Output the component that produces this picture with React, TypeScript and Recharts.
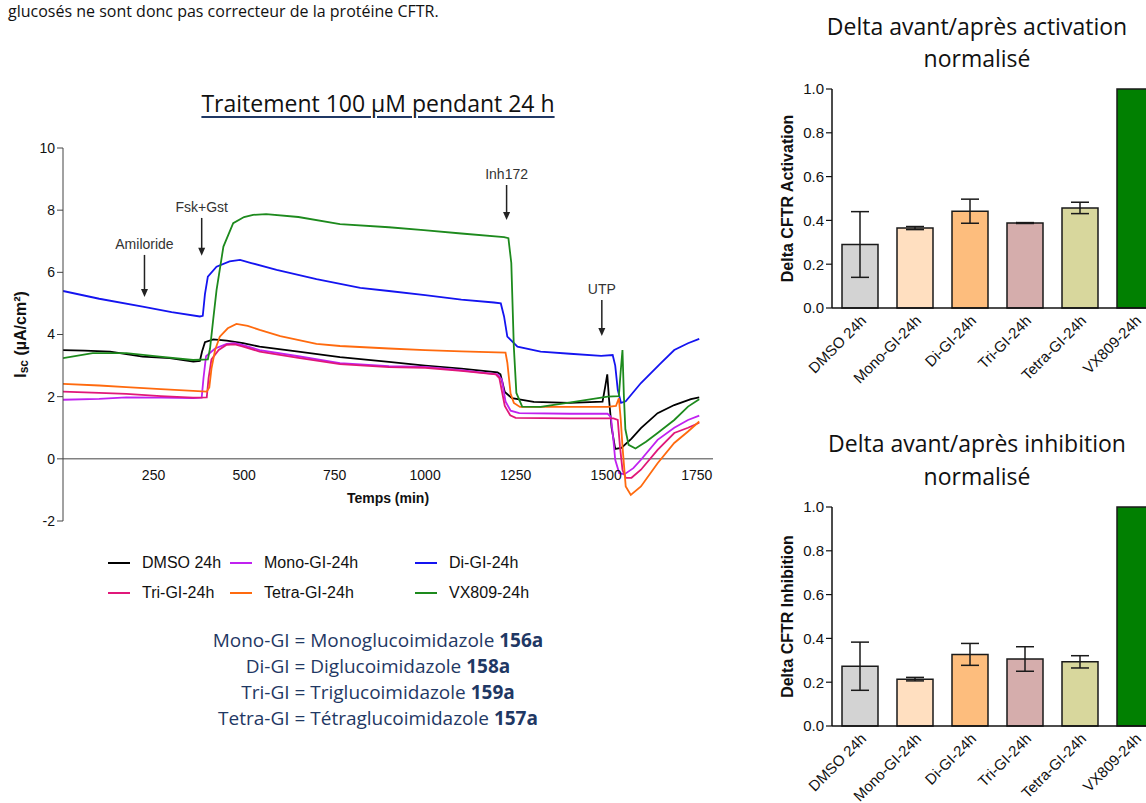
import React from "react";
import {
  Bar,
  BarChart,
  Cell,
  ErrorBar,
  Line,
  LineChart,
  ReferenceLine,
  XAxis,
  YAxis,
} from "recharts";

// Isc traces, [time (min), Isc (µA/cm²)]
const dmso: [number, number][] = [
  [0, 3.5], [60, 3.48], [130, 3.45], [220, 3.29], [295, 3.24], [360, 3.13], [378, 3.15],
  [384, 3.45], [392, 3.75], [415, 3.84], [452, 3.8], [497, 3.72], [543, 3.61], [650, 3.45],
  [765, 3.27], [900, 3.12], [1000, 3.0], [1100, 2.9], [1200, 2.78], [1208, 2.72], [1220, 2.15],
  [1240, 1.95], [1300, 1.83], [1400, 1.8], [1490, 1.84], [1497, 2.3], [1503, 2.72], [1508, 1.9],
  [1515, 1.0], [1525, 0.32], [1542, 0.35], [1570, 0.65], [1596, 0.99], [1642, 1.47],
  [1688, 1.73], [1734, 1.92], [1757, 1.98],
];
const monoGI: [number, number][] = [
  [0, 1.9], [100, 1.93], [175, 1.98], [270, 1.97], [359, 1.95], [383, 1.97], [388, 2.6],
  [395, 3.3], [420, 3.55], [452, 3.7], [475, 3.72], [500, 3.65], [543, 3.5], [650, 3.3],
  [765, 3.08], [900, 2.98], [1000, 2.96], [1100, 2.85], [1200, 2.72], [1212, 2.55],
  [1222, 1.85], [1236, 1.55], [1260, 1.47], [1400, 1.45], [1504, 1.45], [1513, 1.35],
  [1520, 0.6], [1525, -0.03], [1536, -0.46], [1550, -0.5], [1575, -0.3], [1596, -0.03],
  [1642, 0.61], [1688, 1.0], [1726, 1.25], [1757, 1.39],
];
const diGI: [number, number][] = [
  [0, 5.4], [100, 5.15], [220, 4.9], [300, 4.72], [378, 4.58], [386, 4.6], [392, 5.3],
  [400, 5.86], [424, 6.18], [460, 6.35], [489, 6.4], [520, 6.3], [590, 6.08], [700, 5.78],
  [821, 5.5], [900, 5.4], [1000, 5.27], [1100, 5.12], [1190, 5.03], [1209, 5.0], [1218, 4.58],
  [1227, 3.93], [1255, 3.61], [1319, 3.45], [1400, 3.38], [1486, 3.31], [1518, 3.34],
  [1525, 3.0], [1532, 2.22], [1541, 1.8], [1554, 1.85], [1596, 2.44], [1651, 3.08],
  [1688, 3.5], [1726, 3.72], [1757, 3.86],
];
const triGI: [number, number][] = [
  [0, 2.16], [100, 2.12], [175, 2.09], [270, 2.02], [359, 1.97], [397, 1.98], [402, 2.6],
  [410, 3.2], [430, 3.5], [452, 3.67], [475, 3.68], [500, 3.6], [543, 3.45], [650, 3.25],
  [765, 3.05], [900, 2.95], [1000, 2.93], [1100, 2.83], [1195, 2.72], [1205, 2.6],
  [1220, 1.7], [1235, 1.4], [1250, 1.32], [1400, 1.3], [1520, 1.3], [1532, 1.25],
  [1538, 0.4], [1545, -0.35], [1554, -0.61], [1570, -0.61], [1596, -0.35], [1642, 0.29],
  [1688, 0.83], [1726, 1.0], [1757, 1.16],
];
const tetraGI: [number, number][] = [
  [0, 2.41], [100, 2.36], [175, 2.31], [270, 2.24], [397, 2.16], [404, 2.3], [410, 2.9],
  [420, 3.5], [433, 3.93], [455, 4.2], [479, 4.34], [510, 4.28], [543, 4.15], [600, 3.95],
  [700, 3.7], [765, 3.63], [900, 3.55], [1000, 3.5], [1100, 3.46], [1222, 3.42], [1227, 3.1],
  [1236, 2.1], [1245, 1.8], [1262, 1.67], [1400, 1.67], [1504, 1.67], [1527, 1.7],
  [1535, 1.95], [1540, 1.3], [1545, 0.4], [1554, -0.89], [1568, -1.16], [1596, -0.89],
  [1642, -0.14], [1688, 0.51], [1726, 0.88], [1757, 1.2],
];
const vx809: [number, number][] = [
  [0, 3.24], [82, 3.4], [175, 3.4], [267, 3.29], [359, 3.18], [400, 3.2], [406, 3.55],
  [415, 4.5], [424, 5.43], [443, 6.83], [470, 7.58], [500, 7.78], [525, 7.85], [561, 7.87],
  [650, 7.78], [765, 7.55], [900, 7.45], [996, 7.36], [1100, 7.25], [1218, 7.13], [1230, 7.1],
  [1238, 6.3], [1245, 3.6], [1252, 2.12], [1268, 1.68], [1319, 1.67], [1411, 1.83],
  [1504, 2.0], [1535, 2.02], [1540, 2.8], [1545, 3.5], [1549, 2.0], [1553, 0.95], [1562, 0.45],
  [1581, 0.33], [1610, 0.55], [1642, 0.83], [1688, 1.25], [1726, 1.68], [1757, 1.92],
];

const timeTicks = [250, 500, 750, 1000, 1250, 1500, 1750];
const iscTicks = [-2, 0, 2, 4, 6, 8, 10];

// drug additions: [label, time, arrow top, arrow tip]
const additions: [string, number, number, number][] = [
  ["Amiloride", 225, 6.56, 5.21],
  ["Fsk+Gst", 383, 7.75, 6.53],
  ["Inh172", 1225, 8.81, 7.68],
  ["UTP", 1488, 5.11, 3.95],
];

// normalised deltas
const barCategories = ["DMSO 24h", "Mono-GI-24h", "Di-GI-24h", "Tri-GI-24h", "Tetra-GI-24h", "VX809-24h"];
const activation = [0.29, 0.365, 0.442, 0.388, 0.457, 1.0];
const activationErr = [0.15, 0.007, 0.055, 0.002, 0.026, 0];
const inhibition = [0.273, 0.214, 0.327, 0.306, 0.293, 1.0];
const inhibitionErr = [0.11, 0.008, 0.05, 0.056, 0.028, 0];
const barTicks = [0, 0.2, 0.4, 0.6, 0.8, 1.0];

const series = [
  { name: "DMSO 24h", color: "#000000", pts: dmso },
  { name: "Mono-GI-24h", color: "#c021f0", pts: monoGI },
  { name: "Di-GI-24h", color: "#1414f0", pts: diGI },
  { name: "Tri-GI-24h", color: "#e0187a", pts: triGI },
  { name: "Tetra-GI-24h", color: "#ff6a0e", pts: tetraGI },
  { name: "VX809-24h", color: "#1d8a1d", pts: vx809 },
];
const barColors = ["#d3d3d3", "#ffdfc0", "#fdbd7d", "#d5adac", "#d8d79d", "#018001"];

const ARIAL = "'Liberation Sans', Arial, sans-serif";
const SANS = "'Open Sans', 'Noto Sans', sans-serif";
const NAVY = "#1f3864";

// main chart geometry
const MAIN_W = 723;
const MAIN_H = 421;
const M_TOP = 18;
const X_AXIS_H = 30;
const PLOT_H = MAIN_H - M_TOP - X_AXIS_H;
const yZeroPx = M_TOP + PLOT_H * (10 / 12);

const TimeTick = (props: any) => (
  <text x={props.x} y={yZeroPx + 21} textAnchor="middle" fontSize={14} fontFamily={ARIAL} fill="#111">
    {props.payload.value}
  </text>
);

const Arrow = (p: any) => (
  <g>
    <line x1={p.x1} y1={p.y1} x2={p.x2} y2={p.y2 - 6} stroke="#222" strokeWidth={1.5} />
    <polygon points={`${p.x2 - 3.5},${p.y2 - 8} ${p.x2 + 3.5},${p.y2 - 8} ${p.x2},${p.y2}`} fill="#222" />
  </g>
);

const IscLabel = (props: any) => {
  const vb = props.viewBox;
  const cx = vb.x + 20;
  const cy = vb.y + vb.height / 2;
  return (
    <text x={cx} y={cy} transform={`rotate(-90, ${cx}, ${cy})`} textAnchor="middle" dominantBaseline="central"
      fontSize={16} fontWeight="bold" fontFamily={ARIAL} fill="#111">
      I<tspan fontSize={12} dy={4}>sc</tspan>
      <tspan dy={-4}> (µA/cm²)</tspan>
    </text>
  );
};

function TraceChart() {
  return (
    <LineChart width={MAIN_W} height={MAIN_H} margin={{ top: M_TOP, right: 10, bottom: 0, left: 0 }}>
      <XAxis type="number" dataKey="t" domain={[0, 1795]} ticks={timeTicks} allowDataOverflow
        axisLine={false} tickLine={false} tick={<TimeTick />} height={X_AXIS_H} />
      <YAxis type="number" domain={[-2, 10]} ticks={iscTicks} interval={0} width={63}
        axisLine={{ stroke: "#444" }} tickLine={{ stroke: "#444" }} tickSize={6} tickMargin={2}
        tick={{ fontSize: 14, fill: "#111", fontFamily: ARIAL }}
        label={{ content: IscLabel }} />
      <ReferenceLine y={0} stroke="#444"
        label={{ value: "Temps (min)", position: "bottom", offset: 34, fontSize: 14, fontWeight: "bold", fill: "#111", fontFamily: ARIAL }} />
      {series.map((s) => (
        <Line key={s.name} data={s.pts.map(([t, v]) => ({ t, v }))} dataKey="v" stroke={s.color}
          strokeWidth={1.8} dot={false} isAnimationActive={false} />
      ))}
      {additions.map(([text, t, top, tip]) => (
        <ReferenceLine key={text} segment={[{ x: t, y: top }, { x: t, y: tip }]} shape={Arrow}
          label={{ value: text, position: "top", offset: 6, fontSize: 14, fill: "#333", fontFamily: ARIAL }} />
      ))}
    </LineChart>
  );
}

const BAR_PLOT_H = 219;
const BAR_TOP = 19;

const CatTick = (props: any) => {
  const x = props.x + 4;
  const y = BAR_TOP + BAR_PLOT_H + 10;
  return (
    <text x={x} y={y} transform={`rotate(-45, ${x}, ${y})`} textAnchor="end" dy="0.35em"
      fontSize={15} fontFamily={ARIAL} fill="#111">
      {props.payload.value}
    </text>
  );
};

function DeltaBars({ values, errors, label, top }: { values: number[]; errors: number[]; label: string; top: number }) {
  const data = barCategories.map((name, i) => ({ name, value: values[i], err: errors[i] }));
  const YLabel = (props: any) => {
    const vb = props.viewBox;
    const cx = vb.x + 15;
    const cy = vb.y + vb.height / 2;
    return (
      <text x={cx} y={cy} transform={`rotate(-90, ${cx}, ${cy})`} textAnchor="middle" dominantBaseline="central"
        fontSize={16} fontWeight="bold" fontFamily={ARIAL} fill="#111">
        {label}
      </text>
    );
  };
  return (
    <div style={{ position: "absolute", left: 740, top }}>
      <BarChart width={422} height={BAR_TOP + BAR_PLOT_H + 80} data={data} barSize={36}
        margin={{ top: BAR_TOP, right: 0, bottom: 0, left: 32 }}>
        <XAxis dataKey="name" interval={0} height={80} tickLine={false}
          axisLine={{ stroke: "#111", strokeWidth: 1.5 }} tick={<CatTick />} />
        <YAxis type="number" domain={[0, 1]} ticks={barTicks} interval={0} width={60}
          tickFormatter={(v: number) => v.toFixed(1)}
          axisLine={{ stroke: "#111", strokeWidth: 1.5 }} tickLine={{ stroke: "#111", strokeWidth: 1.2 }}
          tickSize={6} tickMargin={2} tick={{ fontSize: 15, fill: "#111", fontFamily: ARIAL }}
          label={{ content: YLabel }} />
        <Bar dataKey="value" stroke="#1a1a1a" strokeWidth={1.5} isAnimationActive={false}>
          {data.map((d, i) => (
            <Cell key={d.name} fill={barColors[i]} />
          ))}
          <ErrorBar dataKey="err" width={9} stroke="#1a1a1a" strokeWidth={1.5} />
        </Bar>
      </BarChart>
    </div>
  );
}

const legendCols = [108, 230, 415];
const legendRows = [563, 593];

export default function App() {
  return (
    <div style={{ position: "fixed", left: 0, top: 0, width: 1146, height: 803, overflow: "hidden", background: "#fff" }}>
      <div style={{ position: "absolute", left: 8, top: 1, fontFamily: SANS, fontSize: 16, lineHeight: "20px", color: "#111", whiteSpace: "nowrap" }}>
        glucosés ne sont donc pas correcteur de la protéine CFTR.
      </div>

      <div style={{ position: "absolute", left: 178, width: 400, top: 88, textAlign: "center", fontFamily: SANS, fontSize: 23, lineHeight: "30px", color: "#111" }}>
        <span style={{ textDecoration: "underline", textDecorationColor: NAVY, textDecorationThickness: 1.5, textUnderlineOffset: 4 }}>
          Traitement 100 µM pendant 24 h
        </span>
      </div>

      <div style={{ position: "absolute", left: 0, top: 130 }}>
        <TraceChart />
      </div>

      {series.map((s, i) => {
        const x = legendCols[i % 3];
        const y = legendRows[Math.floor(i / 3)];
        return (
          <div key={s.name}>
            <div style={{ position: "absolute", left: x, top: y - 1, width: 22, height: 2, background: s.color }} />
            <div style={{ position: "absolute", left: x + 34, top: y - 10, fontFamily: ARIAL, fontSize: 16, lineHeight: "20px", color: "#111", whiteSpace: "nowrap" }}>
              {s.name}
            </div>
          </div>
        );
      })}

      <div style={{ position: "absolute", left: 178, width: 400, top: 627, textAlign: "center", fontFamily: SANS, fontSize: 19, lineHeight: "26px", color: NAVY, whiteSpace: "nowrap" }}>
        <div>Mono-GI = Monoglucoimidazole <b>156a</b></div>
        <div>Di-GI = Diglucoimidazole <b>158a</b></div>
        <div>Tri-GI = Triglucoimidazole <b>159a</b></div>
        <div>Tetra-GI = Tétraglucoimidazole <b>157a</b></div>
      </div>

      <div style={{ position: "absolute", left: 797, width: 360, top: 10, textAlign: "center", fontFamily: SANS, fontSize: 23, lineHeight: "32px", color: "#111", whiteSpace: "nowrap" }}>
        <div>Delta avant/après activation</div>
        <div>normalisé</div>
      </div>
      <DeltaBars values={activation} errors={activationErr} label="Delta CFTR Activation" top={70} />

      <div style={{ position: "absolute", left: 797, width: 360, top: 427, textAlign: "center", fontFamily: SANS, fontSize: 23, lineHeight: "33px", color: "#111", whiteSpace: "nowrap" }}>
        <div>Delta avant/après inhibition</div>
        <div>normalisé</div>
      </div>
      <DeltaBars values={inhibition} errors={inhibitionErr} label="Delta CFTR Inhibition" top={488} />
    </div>
  );
}
